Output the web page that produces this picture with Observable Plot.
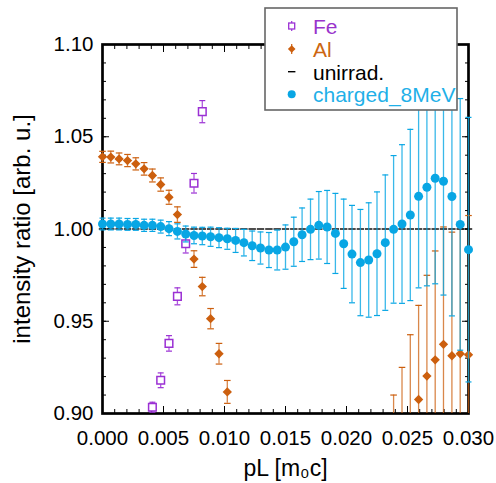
<!DOCTYPE html>
<html><head><meta charset="utf-8">
<script src="https://cdn.jsdelivr.net/npm/d3@7"></script>
<script src="https://cdn.jsdelivr.net/npm/@observablehq/plot@0.6"></script>
<style>
body{margin:0;background:#fff;font-family:"Liberation Sans",Arial,sans-serif;}
#wrap{position:relative;width:496px;height:483px;}
#legend{position:absolute;left:264px;top:7px;}
</style></head><body>
<div id="wrap"></div>
<script>
// ---- data ----
const pL = [0.00000,0.00068,0.00136,0.00205,0.00273,0.00341,0.00409,0.00477,0.00545,0.00614,
  0.00682,0.00750,0.00818,0.00886,0.00955,0.01023,0.01091,0.01159,0.01227,0.01295,
  0.01364,0.01432,0.01500,0.01568,0.01636,0.01705,0.01773,0.01841,0.01909,0.01977,
  0.02045,0.02114,0.02182,0.02250,0.02318,0.02386,0.02455,0.02523,0.02591,0.02659,
  0.02727,0.02795,0.02864,0.02932,0.03000];
const chargedValue = [1.0027,1.0027,1.0027,1.0025,1.0025,1.0020,1.0020,1.0013,1.0002,0.9987,
  0.9973,0.9965,0.9962,0.9958,0.9953,0.9947,0.9938,0.9926,0.9909,0.9897,
  0.9886,0.9886,0.9902,0.9931,0.9969,0.9998,1.0020,1.0011,0.9976,0.9920,
  0.9864,0.9818,0.9832,0.9866,0.9926,0.9998,1.0027,1.0076,1.0177,1.0226,
  1.0275,1.0259,1.0176,1.0025,0.9888];
const chargedError = [0.0032,0.0032,0.0032,0.0032,0.0032,0.0033,0.0033,0.0035,0.0038,0.0041,
  0.0043,0.0045,0.0047,0.0052,0.0054,0.0057,0.0065,0.0072,0.0080,0.0087,
  0.0095,0.0108,0.0120,0.0133,0.0145,0.0164,0.0183,0.0198,0.0217,0.0242,
  0.0264,0.0288,0.0310,0.0335,0.0367,0.0400,0.0430,0.0464,0.0496,0.0534,
  0.0572,0.0617,0.0647,0.0682,0.0717];
const unirradValue = [1,1,1,1,1,1,1,1,1,1, 1,1,1,1,1,1,1,1,1,1, 1,1,1,1,1,1,1,1,1,1,
  1,1,1,1,1,1,1,1,1,1, 1,1,1,1,1];
const alX = [0.00000,0.00068,0.00136,0.00205,0.00273,0.00341,0.00409,0.00477,0.00545,0.00614,
  0.00750,0.00818,0.00886,0.00955,0.01023,
  0.02386,0.02455,0.02523,0.02591,0.02659,0.02727,0.02795,0.02864,0.02932,0.03000];
const alValue = [1.0391,1.0390,1.0380,1.0371,1.0353,1.0326,1.0290,1.0241,1.0172,1.0078,
  0.9837,0.9688,0.9514,0.9324,0.9117,
  0.8700,0.8820,0.8950,0.9076,0.9203,0.9291,0.9375,0.9313,0.9324,0.9318];
const alError = [0.0030,0.0032,0.0032,0.0033,0.0033,0.0034,0.0035,0.0036,0.0038,0.0042,
  0.0045,0.0050,0.0055,0.0056,0.0062,
  0.0400,0.0430,0.0477,0.0510,0.0546,0.0590,0.0636,0.0670,0.0710,0.0755];
const feX = [0.00409,0.00477,0.00545,0.00614,0.00682,0.00750,0.00818];
const feValue = [0.9034,0.9180,0.9380,0.9635,0.9920,1.0248,1.0636];
const feError = [0.0027,0.0040,0.0042,0.0046,0.0050,0.0053,0.0060];
const xTicks = [0, 0.005, 0.010, 0.015, 0.020, 0.025, 0.030];
const yTicks = [0.90, 0.95, 1.00, 1.05, 1.10];
const xLabel = "pL [m\u2080c]";
const yLabel = "intensity ratio [arb. u.]";
const seriesNames = ["Fe", "Al", "unirrad.", "charged_8MeV"];

// ---- colours ----
const C_FE = "#9b30d4", C_AL = "#cc5f0e", C_CH = "#08a6e4";
const T_FE = "#9933cc", T_AL = "#cc6611", T_CH = "#1fb0e8";

const YMIN = 0.90;
const rows = (xs, vs, es) => xs.map((x, i) => ({x, y: vs[i], e: es[i], lo: vs[i] - es[i], hi: vs[i] + es[i]}));
const charged = rows(pL, chargedValue, chargedError);
const al = rows(alX, alValue, alError);
const fe = rows(feX, feValue, feError);
const unirrad = pL.map((x, i) => ({x, y: unirradValue[i]}));

const hline = {draw(ctx, size) { const w = Math.sqrt(size / Math.PI); ctx.moveTo(-w, 0); ctx.lineTo(w, 0); }};

function errorBars(data, color, capR, op) {
  return [
    Plot.ruleX(data, {x: "x", y1: d => Math.max(YMIN, d.lo), y2: "hi", stroke: color, strokeWidth: 1.3, strokeOpacity: op}),
    Plot.dot(data.filter(d => d.lo >= YMIN), {x: "x", y: "lo", symbol: hline, r: capR, stroke: color, strokeWidth: 1.2}),
    Plot.dot(data, {x: "x", y: "hi", symbol: hline, r: capR, stroke: color, strokeWidth: 1.2})
  ];
}

const minorX = d3.range(0, 0.03005, 0.001);
const minorY = d3.range(0.90, 1.1005, 0.01);
const blank = () => "";

const chart = Plot.plot({
  width: 496, height: 483,
  marginLeft: 102, marginRight: 28, marginTop: 44, marginBottom: 70,
  x: {domain: [0, 0.030]},
  y: {domain: [0.90, 1.10]},
  style: {fontFamily: "'Liberation Sans', Arial, sans-serif", fontSize: "20px", color: "#000", background: "#fff"},
  marks: [
    Plot.frame({stroke: "#000", strokeWidth: 2.7}),
    Plot.axisX(minorX, {anchor: "bottom", tickSize: -4, tickFormat: blank, label: null}),
    Plot.axisX(xTicks, {anchor: "bottom", tickSize: -7, tickPadding: 24, tickFormat: d3.format(".3f"), label: null, fontSize: 20.5}),
    Plot.axisX(minorX, {anchor: "top", tickSize: -4, tickFormat: blank, label: null}),
    Plot.axisX(xTicks, {anchor: "top", tickSize: -7, tickFormat: blank, label: null}),
    Plot.axisY(minorY, {anchor: "left", tickSize: -4, tickFormat: blank, label: null}),
    Plot.axisY(yTicks, {anchor: "left", tickSize: -7, tickPadding: 16, tickFormat: d3.format(".2f"), label: null, fontSize: 20.5}),
    Plot.axisY(minorY, {anchor: "right", tickSize: -4, tickFormat: blank, label: null}),
    Plot.axisY(yTicks, {anchor: "right", tickSize: -7, tickFormat: blank, label: null}),
    Plot.text([xLabel], {frameAnchor: "bottom", textAnchor: "middle", lineAnchor: "top", dy: 46, fontSize: 23, fill: "#000"}),
    Plot.text([yLabel], {frameAnchor: "left", textAnchor: "middle", rotate: -90, lineAnchor: "middle", dx: -80, fontSize: 24, fill: "#000"}),
    // Fe
    ...errorBars(fe, C_FE, 3, 0.8),
    Plot.dot(fe, {x: "x", y: "y", symbol: "square", r: 4.3, stroke: C_FE, fill: "#fff", strokeWidth: 1.5}),
    // Al
    ...errorBars(al, C_AL, 3.3, 0.75),
    Plot.dot(al.filter(d => d.y >= YMIN), {x: "x", y: "y", symbol: "diamond2", r: 4.2, fill: C_AL}),
    // unirrad
    Plot.dot(unirrad, {x: "x", y: "y", symbol: hline, r: 3.7, stroke: "#000", strokeWidth: 1.4}),
    // charged
    ...errorBars(charged, C_CH, 3, 0.8),
    Plot.dot(charged, {x: "x", y: "y", r: 4.5, fill: C_CH})
  ]
});

const wrap = document.getElementById("wrap");
wrap.appendChild(chart);

// ---- legend (overlaps the top of the frame as in the reference) ----
const lg = d3.create("svg").attr("id", "legend").attr("width", 196).attr("height", 106)
  .style("font-family", "'Liberation Sans', Arial, sans-serif").style("font-size", "21px");
lg.append("rect").attr("x", 1).attr("y", 1).attr("width", 192).attr("height", 102)
  .attr("fill", "#fff").attr("stroke", "#666").attr("stroke-width", 1.6);
const sx = 27.7, tx = 49;
const rowsY = [19, 42, 64.7, 87.3];
const base = [27.3, 50, 72.7, 95.4];
const tcol = [T_FE, T_AL, "#000", T_CH];
// Fe symbol
lg.append("line").attr("x1", sx).attr("x2", sx).attr("y1", rowsY[0] - 5).attr("y2", rowsY[0] + 5).attr("stroke", C_FE).attr("stroke-width", 1.2);
lg.append("rect").attr("x", sx - 3).attr("y", rowsY[0] - 3).attr("width", 6).attr("height", 6).attr("fill", "#fff").attr("stroke", C_FE).attr("stroke-width", 1.3);
// Al symbol
lg.append("line").attr("x1", sx).attr("x2", sx).attr("y1", rowsY[1] - 5).attr("y2", rowsY[1] + 5).attr("stroke", C_AL).attr("stroke-width", 1.2);
lg.append("path").attr("d", `M${sx},${rowsY[1]-3.8}L${sx+3.8},${rowsY[1]}L${sx},${rowsY[1]+3.8}L${sx-3.8},${rowsY[1]}Z`).attr("fill", C_AL);
// unirrad symbol
lg.append("line").attr("x1", sx - 3.7).attr("x2", sx + 3.7).attr("y1", rowsY[2]).attr("y2", rowsY[2]).attr("stroke", "#000").attr("stroke-width", 1.4);
// charged symbol
lg.append("circle").attr("cx", sx).attr("cy", rowsY[3]).attr("r", 4).attr("fill", C_CH);
seriesNames.forEach((name, i) => {
  lg.append("text").attr("x", tx).attr("y", base[i]).attr("fill", tcol[i]).text(name);
});
wrap.appendChild(lg.node());
</script>
</body></html>
